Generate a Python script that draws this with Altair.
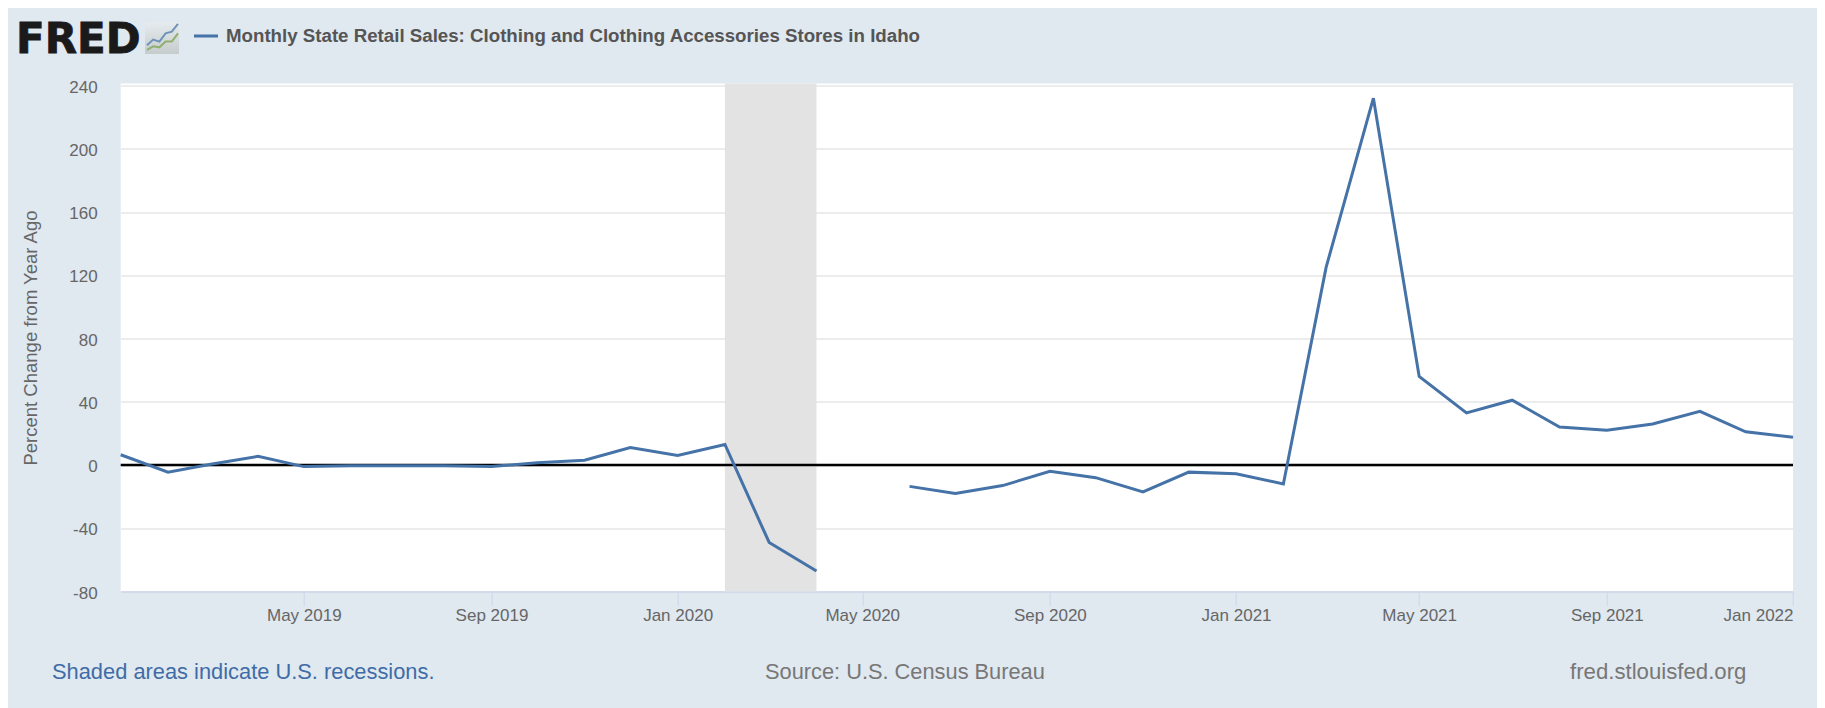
import altair as alt
import pandas as pd

months = pd.date_range("2019-01-01", "2022-01-01", freq="MS").strftime("%Y-%m-%d").tolist()
values = [6.5, -4.5, 0.5, 5.5, -1, -0.5, -0.5, -0.5, -1, 1.5, 3, 11, 6, 13, -49, -67, None,
          -13.5, -18, -13, -4, -8, -17, -4.5, -5.5, -12, 125, 232, 56, 33, 41, 24, 22, 26, 34, 21, 17.5]
tick_dates = ["2019-05-01", "2019-09-01", "2020-01-01", "2020-05-01", "2020-09-01",
              "2021-01-01", "2021-05-01", "2021-09-01", "2022-01-01"]
y_ticks = [-80, -40, 0, 40, 80, 120, 160, 200, 240]
recession_start = ["2020-02-01"]
recession_end = ["2020-04-01"]
series_title = "Monthly State Retail Sales: Clothing and Clothing Accessories Stores in Idaho"
y_title = "Percent Change from Year Ago"
note = "Shaded areas indicate U.S. recessions."
source = "Source: U.S. Census Bureau"
site = "fred.stlouisfed.org"
logo_blue = [1.3, 2.4, 2.0, 3.6, 3.9, 5.4]
logo_green = [0.4, 1.1, 0.9, 2.0, 2.0, 3.6]

LEFT, TOP, W, H = 120.7, 83.5, 1672.3, 508
Y_MIN, Y_MAX = -80, 241.3
BG = "#e0e8f0"
BLUE = "#4572a7"

df = pd.DataFrame({"date": months, "value": values})
x_scale = alt.Scale(type="utc", domain=["2019-01-01", "2022-01-01"])
y_scale = alt.Scale(domain=[Y_MIN, Y_MAX], nice=False, zero=False)
x_axis = alt.Axis(
    values=tick_dates, format="%b %Y", title=None, grid=False, domainColor="#ccd6eb", domainWidth=1.5,
    tickColor="#ccd6eb", tickSize=14, labelColor="#666666", labelFontSize=17, labelFont="Liberation Sans",
    labelPadding=1.5, labelOverlap=False, labelFlush=False,
    labelAlign={"condition": {"test": "datum.label == 'Jan 2022'", "value": "right"}, "value": "center"})
y_axis = alt.Axis(
    values=y_ticks, title=y_title, grid=True, gridColor="#e6e6e6", gridWidth=1.5, domain=False, ticks=False,
    labelColor="#666666", labelFontSize=17, labelFont="Liberation Sans", labelPadding=23.5, labelOffset=1.5,
    labelExpr="toString(datum.value)",
    titleFont="Liberation Sans", titleFontSize=18.5, titleFontWeight="normal", titleColor="#666666",
    titleX=-80.5, titleY=254)

rec = alt.Chart(pd.DataFrame({"a": recession_start, "b": recession_end, "lo": [Y_MIN], "hi": [Y_MAX]})).mark_rect(color="#e3e3e3").encode(
    x=alt.X("a:T", scale=x_scale, axis=x_axis),
    x2="b:T",
    y=alt.Y("lo:Q", scale=y_scale, axis=y_axis),
    y2="hi:Q",
)

zero = alt.Chart(pd.DataFrame({"s": [months[0]], "e": [months[-1]], "z": [0]})).mark_rule(color="#000000", strokeWidth=2.5).encode(
    x=alt.X("s:T", scale=x_scale, axis=x_axis),
    x2="e:T",
    y=alt.Y("z:Q", scale=y_scale, axis=y_axis))

line = alt.Chart(df).mark_line(color=BLUE, strokeWidth=3, strokeJoin="miter").encode(
    x=alt.X("date:T", scale=x_scale, axis=x_axis),
    y=alt.Y("value:Q", scale=y_scale, axis=y_axis))

main = alt.layer(rec, zero, line)


def label(text, x, y, size, color, weight="normal", font="Liberation Sans", **kw):
    return alt.Chart(pd.DataFrame({"t": [text]})).mark_text(
        font=font, fontSize=size, color=color, fontWeight=weight, align="left", baseline="middle", **kw
    ).encode(text="t:N", x=alt.value(x - LEFT), y=alt.value(y - TOP))


logo_df = pd.DataFrame({"i": list(range(len(logo_blue))), "b": logo_blue, "g": logo_green})
ix = alt.Scale(domain=[0, 5], range=[147 - LEFT, 178 - LEFT])
iy = alt.Scale(domain=[0, 5], range=[52 - TOP, 26 - TOP])
logo_box = alt.Chart(pd.DataFrame({"t": [0]})).mark_rect(color=alt.Gradient(
    gradient="linear", x1=0, x2=0, y1=0, y2=1,
    stops=[alt.GradientStop(color="#e6ebef", offset=0), alt.GradientStop(color="#c6cbcc", offset=1)])).encode(
    x=alt.value(145 - LEFT), x2=alt.value(179 - LEFT), y=alt.value(22 - TOP), y2=alt.value(54 - TOP))
logo_b = alt.Chart(logo_df).mark_line(color="#6f93b8", strokeWidth=2).encode(
    x=alt.X("i:Q", scale=ix, axis=None), y=alt.Y("b:Q", scale=iy, axis=None))
logo_g = alt.Chart(logo_df).mark_line(color="#8fb06f", strokeWidth=2).encode(
    x=alt.X("i:Q", scale=ix, axis=None), y=alt.Y("g:Q", scale=iy, axis=None))
dash = alt.Chart(pd.DataFrame({"t": [0]})).mark_rule(color=BLUE, strokeWidth=3).encode(
    x=alt.value(194 - LEFT), x2=alt.value(218 - LEFT), y=alt.value(36 - TOP))

deco = alt.layer(
    logo_box, logo_b, logo_g, dash,
    label("FRED", 16, 40, 42, "#1a1a1a", "bold", font="DejaVu Sans", stroke="#1a1a1a", strokeWidth=0.8),
    label(series_title, 226, 36, 18.7, "#555555", "bold"),
    label(note, 52, 671.5, 21.85, "#3f6ca6"),
    label(source, 765, 671.5, 21.8, "#777777"),
    label(site, 1570, 671.5, 22.2, "#777777"),
)

chart = alt.layer(main, deco).resolve_scale(x="independent", y="independent").properties(
    width=W, height=H,
    autosize=alt.AutoSizeParams(type="none"),
    padding={"left": LEFT - 8, "top": TOP - 8, "right": 1817 - LEFT - W, "bottom": 708 - TOP - H},
    background=BG,
).configure_view(fill="#ffffff", stroke=None)

chart.save("out.html", embed_options={"renderer": "svg", "actions": False})
